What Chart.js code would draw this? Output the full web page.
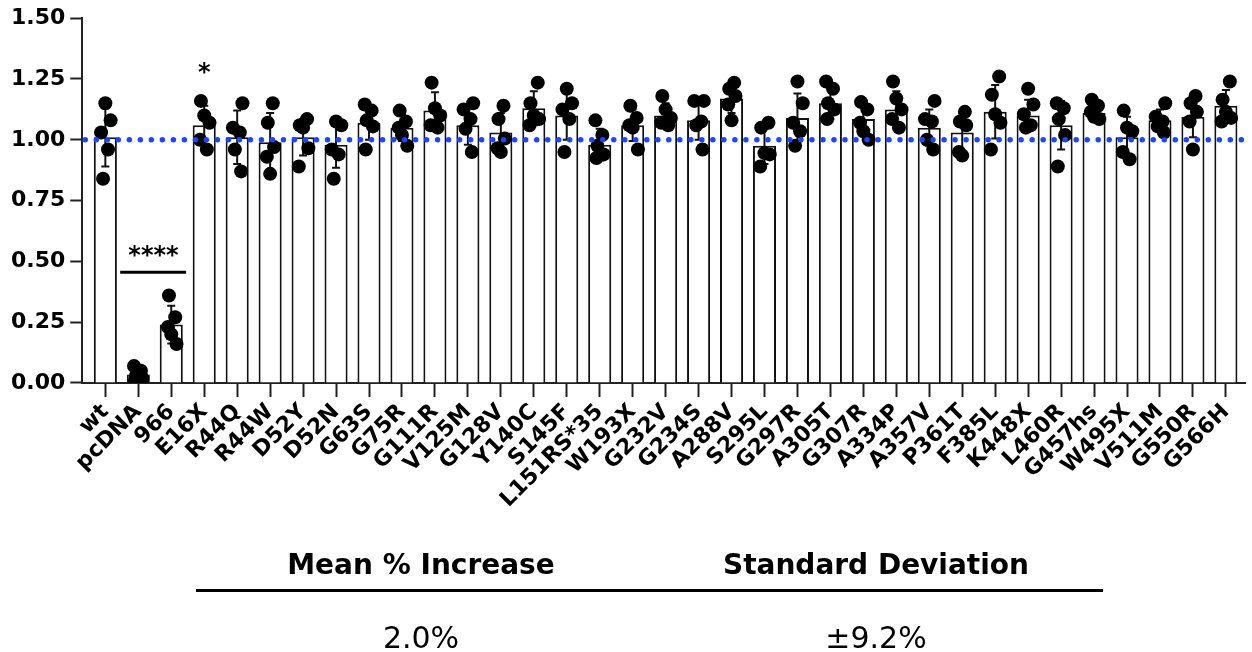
<!DOCTYPE html>
<html>
<head>
<meta charset="utf-8">
<script src="https://cdn.jsdelivr.net/npm/chart.js@4"></script>
<style>
  html, body { margin: 0; padding: 0; background: #fff; }
  body { width: 1252px; height: 652px; position: relative; overflow: hidden; font-family: "DejaVu Sans", sans-serif; color: #000; }
  #wrap { position: absolute; left: 0; top: 0; width: 1252px; height: 652px; }
  .cell { position: absolute; width: 400px; text-align: center; white-space: nowrap; }
  .head { font-weight: bold; font-size: 28px; line-height: 28px; top: 551px; }
  .val { font-size: 30px; line-height: 30px; top: 623px; }
  #rule { position: absolute; left: 196px; top: 589px; width: 907px; height: 3px; background: #000; }
</style>
</head>
<body>
<div id="wrap"><canvas id="mutantChart"></canvas></div>
<div class="cell head" style="left:221px">Mean % Increase</div>
<div class="cell head" style="left:676px">Standard Deviation</div>
<div id="rule"></div>
<div class="cell val" style="left:221px">2.0%</div>
<div class="cell val" style="left:676px">±9.2%</div>
<script>
const LABELS = ['wt', 'pcDNA', '966', 'E16X', 'R44Q', 'R44W', 'D52Y', 'D52N', 'G63S', 'G75R',
  'G111R', 'V125M', 'G128V', 'Y140C', 'S145F', 'L151RS*35', 'W193X', 'G232V', 'G234S', 'A288V',
  'S295L', 'G297R', 'A305T', 'G307R', 'A334P', 'A357V', 'P361T', 'F385L', 'K448X', 'L460R',
  'G457hs', 'W495X', 'V511M', 'G550R', 'G566H'];

// bar heights (mean) and error bar size (SD)
const MEANS = [1.01, 0.035, 0.24, 1.06, 1.01, 0.99, 1.01, 0.98, 1.07, 1.05,
  1.12, 1.06, 1.03, 1.13, 1.10, 0.98, 1.06, 1.10, 1.08, 1.17,
  0.975, 1.09, 1.15, 1.085, 1.125, 1.05, 1.03, 1.115, 1.10, 1.06,
  1.11, 1.01, 1.08, 1.095, 1.14];
const SDS = [0.12, 0.025, 0.078, 0.08, 0.11, 0.12, 0.075, 0.095, 0.07, 0.055,
  0.075, 0.08, 0.08, 0.07, 0.10, 0.065, 0.065, 0.05, 0.08, 0.06,
  0.075, 0.10, 0.065, 0.065, 0.075, 0.075, 0.08, 0.11, 0.065, 0.10,
  0.035, 0.085, 0.045, 0.085, 0.065];

// individual replicates
const REPLICATES = [
  [1.15, 1.08, 1.03, 0.96, 0.84],
  [0.07, 0.05, 0.03, 0.02, 0.01],
  [0.36, 0.27, 0.23, 0.20, 0.16],
  [1.16, 1.10, 1.07, 1.00, 0.96],
  [1.15, 1.05, 1.03, 0.96, 0.87],
  [1.15, 1.07, 0.97, 0.93, 0.86],
  [1.085, 1.06, 1.05, 0.965, 0.89],
  [1.075, 1.06, 0.96, 0.94, 0.84],
  [1.145, 1.12, 1.08, 1.055, 0.96],
  [1.12, 1.075, 1.05, 1.02, 0.975],
  [1.235, 1.13, 1.10, 1.06, 1.05],
  [1.15, 1.125, 1.085, 1.045, 0.95],
  [1.14, 1.085, 1.005, 0.965, 0.95],
  [1.235, 1.15, 1.10, 1.085, 1.06],
  [1.21, 1.15, 1.125, 1.085, 0.95],
  [1.08, 1.02, 0.975, 0.94, 0.925],
  [1.14, 1.09, 1.06, 1.05, 0.96],
  [1.18, 1.125, 1.09, 1.07, 1.06],
  [1.16, 1.16, 1.075, 1.06, 0.96],
  [1.235, 1.21, 1.18, 1.145, 1.08],
  [1.07, 1.05, 0.945, 0.94, 0.89],
  [1.24, 1.15, 1.07, 1.035, 0.975],
  [1.24, 1.21, 1.15, 1.125, 1.085],
  [1.155, 1.125, 1.07, 1.035, 1.0],
  [1.24, 1.17, 1.125, 1.085, 1.05],
  [1.16, 1.085, 1.075, 1.0, 0.96],
  [1.115, 1.075, 1.06, 0.95, 0.935],
  [1.26, 1.185, 1.105, 1.07, 0.96],
  [1.21, 1.145, 1.105, 1.06, 1.05],
  [1.15, 1.13, 1.085, 1.02, 0.89],
  [1.165, 1.14, 1.115, 1.095, 1.085],
  [1.12, 1.05, 1.035, 0.95, 0.92],
  [1.15, 1.095, 1.075, 1.055, 1.03],
  [1.18, 1.15, 1.115, 1.075, 0.96],
  [1.24, 1.165, 1.115, 1.09, 1.075]
];

const Y_TICKS = [0, 0.25, 0.5, 0.75, 1.0, 1.25, 1.5];
const REFERENCE_LEVEL = 1.0;

// horizontal spread of the dots inside a bar (in category units)
const JITTER = [0, 0.16, -0.13, 0.08, -0.07, 0.12, -0.1];

const FONT = '"DejaVu Sans", sans-serif';

const barData = MEANS.map((m, i) => ({ x: i, y: m }));
const dotData = [];
REPLICATES.forEach((vals, i) => {
  vals.forEach((v, j) => {
    dotData.push({ x: i + JITTER[(i * 2 + j) % JITTER.length], y: v });
  });
});

const errorBars = {
  id: 'errorBars',
  afterDatasetDraw(chart, args) {
    if (args.index !== 0) return;
    const { ctx, scales: { x, y } } = chart;
    ctx.save();
    ctx.strokeStyle = '#111';
    ctx.lineWidth = 2;
    MEANS.forEach((m, i) => {
      const px = x.getPixelForValue(i);
      const top = y.getPixelForValue(m + SDS[i]);
      const bot = y.getPixelForValue(Math.max(0, m - SDS[i]));
      ctx.beginPath();
      ctx.moveTo(px, top); ctx.lineTo(px, bot);
      ctx.moveTo(px - 4, top); ctx.lineTo(px + 4, top);
      ctx.moveTo(px - 4, bot); ctx.lineTo(px + 4, bot);
      ctx.stroke();
    });
    ctx.restore();
  }
};

const overlay = {
  id: 'overlay',
  afterDatasetsDraw(chart) {
    const { ctx, chartArea, scales: { x, y } } = chart;
    ctx.save();
    // dotted reference line at 1.0
    const ly = y.getPixelForValue(REFERENCE_LEVEL);
    ctx.strokeStyle = 'rgb(30, 70, 255)';
    ctx.lineWidth = 5.5;
    ctx.lineCap = 'round';
    ctx.setLineDash([0.01, 11]);
    ctx.beginPath();
    ctx.moveTo(chartArea.left + 3, ly);
    ctx.lineTo(chart.width, ly);
    ctx.stroke();
    ctx.setLineDash([]);

    // significance marks
    ctx.fillStyle = '#000';
    ctx.strokeStyle = '#000';
    ctx.lineCap = 'butt';
    ctx.lineWidth = 3;
    const by = y.getPixelForValue(0.455);
    ctx.beginPath();
    ctx.moveTo(x.getPixelForValue(0.45), by);
    ctx.lineTo(x.getPixelForValue(2.45), by);
    ctx.stroke();
    ctx.font = 'bold 24px ' + FONT;
    ctx.textAlign = 'center';
    ctx.textBaseline = 'middle';
    ctx.fillText('****', x.getPixelForValue(1.46), y.getPixelForValue(0.52));
    ctx.fillText('*', x.getPixelForValue(3), y.getPixelForValue(1.27));
    ctx.restore();
  }
};

new Chart(document.getElementById('mutantChart'), {
  type: 'bar',
  data: {
    datasets: [
      {
        type: 'bar',
        data: barData,
        backgroundColor: '#fff',
        borderColor: '#111',
        borderWidth: 2,
        barPercentage: 0.7,
        categoryPercentage: 1,
        order: 1
      },
      {
        type: 'scatter',
        data: dotData,
        backgroundColor: '#000',
        borderWidth: 0,
        pointRadius: 7,
        order: 0
      }
    ]
  },
  options: {
    responsive: true,
    maintainAspectRatio: false,
    animation: false,
    events: [],
    layout: { padding: { left: 6, right: 0, top: 18, bottom: 137 } },
    plugins: { legend: { display: false }, tooltip: { enabled: false } },
    scales: {
      x: {
        type: 'linear',
        min: -0.7,
        max: 34.58,
        offset: false,
        afterBuildTicks: scale => { scale.ticks = LABELS.map((_, i) => ({ value: i })); },
        grid: { display: true, drawOnChartArea: false, offset: false, tickLength: 14, tickWidth: 2, tickColor: '#222' },
        border: { color: '#222', width: 2 },
        ticks: {
          autoSkip: false,
          maxRotation: 45,
          minRotation: 45,
          padding: 2,
          color: '#000',
          font: { family: FONT, size: 22, weight: 'bold' },
          callback: value => LABELS[value]
        }
      },
      y: {
        min: 0,
        max: 1.5,
        afterBuildTicks: scale => { scale.ticks = Y_TICKS.map(v => ({ value: v })); },
        grid: { display: true, drawOnChartArea: false, tickLength: 12, tickWidth: 2, tickColor: '#222' },
        border: { color: '#222', width: 2 },
        ticks: {
          padding: 5,
          color: '#000',
          font: { family: FONT, size: 22, weight: 'bold' },
          callback: v => v.toFixed(2)
        }
      }
    }
  },
  plugins: [errorBars, overlay]
});
</script>
</body>
</html>
